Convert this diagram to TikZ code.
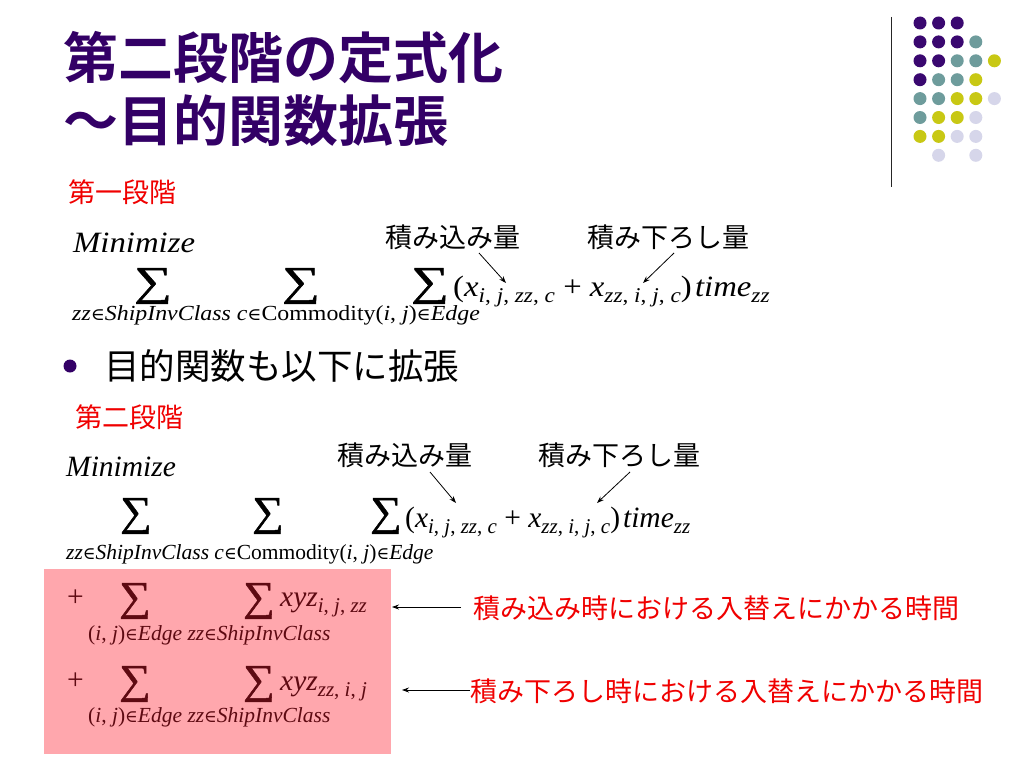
\documentclass[tikz,border=0pt]{standalone}
\usepackage{fontspec}
\setmainfont{Liberation Serif}
\newfontfamily\jp{Noto Sans CJK JP}[BoldFont={Noto Sans CJK JP Bold}]
\newfontfamily\symf{DejaVu Serif}[Scale=0.8]
\newfontfamily\sumfont{Liberation Serif}[FakeBold=1.2]
\usetikzlibrary{arrows.meta}
\definecolor{titlec}{HTML}{330066}
\definecolor{dotP}{HTML}{3A0870}
\definecolor{dotT}{HTML}{6E9C9C}
\definecolor{dotY}{HTML}{C8C814}
\definecolor{dotL}{HTML}{D6D6EA}
\definecolor{pinkc}{HTML}{FFA7AD}
\definecolor{boxtxt}{HTML}{5E0A12}
\definecolor{redc}{HTML}{F00000}
\newcommand\fs[1]{\fontsize{#1}{#1}\selectfont}
\newcommand\inn{{\symf ∈}}
\newcommand\sbx[1]{\raisebox{-6pt}{\fs{21}#1}}
\tikzset{
  txt/.style={inner sep=0pt, anchor=base west},
  mainf/.style={txt, font=\fs{29.5}},
  subf/.style={txt, font=\fs{21.5}},
  sumf/.style={inner sep=0pt, anchor=center, font=\sumfont\fs{41}, xscale=1.08},
  jplbl/.style={txt, font=\jp\fs{27}},
  redlbl/.style={jplbl, text=redc},
  arr/.style={-{Stealth[length=7pt,width=5pt]}, line width=0.8pt},
  dotc/.style={circle, inner sep=0pt, minimum size=13pt, fill=#1},
  f1/.style={xscale=1.11},
  f1s/.style={xscale=1.2}
}
\newcommand\mainrow{(\textit{x}\sbx{\textit{i}, \textit{j}, \textit{zz}, \textit{c}} + \textit{x}\sbx{\textit{zz}, \textit{i}, \textit{j}, \textit{c}})\hspace{3pt}\textit{time}\sbx{\textit{zz}}}
\newcommand\subrow{\textit{zz}\inn\textit{ShipInvClass} \textit{c}\inn Commodity(\textit{i}, \textit{j})\inn\textit{Edge}}
\newcommand\boxrow{(\textit{i}, \textit{j})\inn\textit{Edge} \textit{zz}\inn\textit{ShipInvClass}}
\begin{document}
\begin{tikzpicture}[x=1pt,y=-1pt]
\useasboundingbox (0,0) rectangle (1024,768);
\fill[white] (0,0) rectangle (1024,768);

% title
\node[txt, font=\jp\bfseries\fs{55}, text=titlec] (t1) at (63,78) {第二段階の定式化};
\node[txt, font=\jp\bfseries\fs{55}, text=titlec] (t2) at (63,141) {～目的関数拡張};

% decoration
\draw[line width=1.2pt, black!85] (891.5,17) -- (891.5,187);
\foreach \r/\c/\col in {0/0/dotP,0/1/dotP,0/2/dotP,
  1/0/dotP,1/1/dotP,1/2/dotP,1/3/dotT,
  2/0/dotP,2/1/dotP,2/2/dotT,2/3/dotT,2/4/dotY,
  3/0/dotP,3/1/dotT,3/2/dotT,3/3/dotY,
  4/0/dotT,4/1/dotT,4/2/dotY,4/3/dotY,4/4/dotL,
  5/0/dotT,5/1/dotY,5/2/dotY,5/3/dotL,
  6/0/dotY,6/1/dotY,6/2/dotL,6/3/dotL,
  7/1/dotL,7/3/dotL}
  \node[dotc=\col] (d\r\c) at (920+18.6*\c,23+18.9*\r) {};

% stage 1
\node[redlbl] (st1) at (68,202) {第一段階};
\node[mainf, f1] (m1) at (73,252) {\textit{Minimize}};
\node[sumf, f1s] (s11) at (153,286) {∑};
\node[sumf, f1s] (s12) at (301,286) {∑};
\node[sumf, f1s] (s13) at (430,286) {∑};
\node[subf, f1] (u1) at (72,320) {\subrow};
\node[mainf, f1] (e1) at (453,296) {\mainrow};
\node[jplbl] (la1) at (385,247) {積み込み量};
\node[jplbl] (lb1) at (587,247) {積み下ろし量};
\coordinate (a1s) at (479,253);
\coordinate (a1e) at (506,283);
\coordinate (b1s) at (674,253);
\coordinate (b1e) at (643,283);
\draw[arr] (a1s) -- (a1e);
\draw[arr] (b1s) -- (b1e);

% bullet
\node[dotc=titlec] (bul) at (70,366) {};
\node[jplbl, font=\jp\fs{35.5}] (btxt) at (104,379) {目的関数も以下に拡張};

% stage 2
\node[redlbl] (st2) at (75,427) {第二段階};
\node[mainf] (m2) at (66,476) {\textit{Minimize}};
\node[sumf] (s21) at (136,516) {∑};
\node[sumf] (s22) at (268,516) {∑};
\node[sumf] (s23) at (386,516) {∑};
\node[subf] (u2) at (66,559) {\subrow};
\node[mainf] (e2) at (405,527) {\mainrow};
\node[jplbl] (la2) at (337,465) {積み込み量};
\node[jplbl] (lb2) at (538,465) {積み下ろし量};
\coordinate (a2s) at (430,472);
\coordinate (a2e) at (456,503);
\coordinate (b2s) at (630,472);
\coordinate (b2e) at (597,503);
\draw[arr] (a2s) -- (a2e);
\draw[arr] (b2s) -- (b2e);

% pink box
\node[fill=pinkc, minimum width=347pt, minimum height=185pt, anchor=north west, inner sep=0pt] (box) at (44,569) {};
\begin{scope}[every node/.append style={text=boxtxt}]
\node[mainf] (p1) at (67,606) {+};
\node[sumf] (s31) at (135,601) {∑};
\node[sumf] (s32) at (259,601) {∑};
\node[mainf] (x1) at (280,606) {\textit{xyz}\sbx{\textit{i}, \textit{j}, \textit{zz}}};
\node[subf] (u3) at (88,640) {\boxrow};
\node[mainf] (p2) at (67,689) {+};
\node[sumf] (s41) at (135,684) {∑};
\node[sumf] (s42) at (259,684) {∑};
\node[mainf] (x2) at (280,690) {\textit{xyz}\sbx{\textit{zz}, \textit{i}, \textit{j}}};
\node[subf] (u4) at (88,722) {\boxrow};
\end{scope}

% red labels
\node[redlbl] (r1) at (473,618) {積み込み時における入替えにかかる時間};
\node[redlbl] (r2) at (470,701) {積み下ろし時における入替えにかかる時間};
\coordinate (c1s) at (461,607);
\coordinate (c1e) at (392,607);
\coordinate (c2s) at (470,690);
\coordinate (c2e) at (402,690);
\draw[arr] (c1s) -- (c1e);
\draw[arr] (c2s) -- (c2e);
\end{tikzpicture}
\end{document}
